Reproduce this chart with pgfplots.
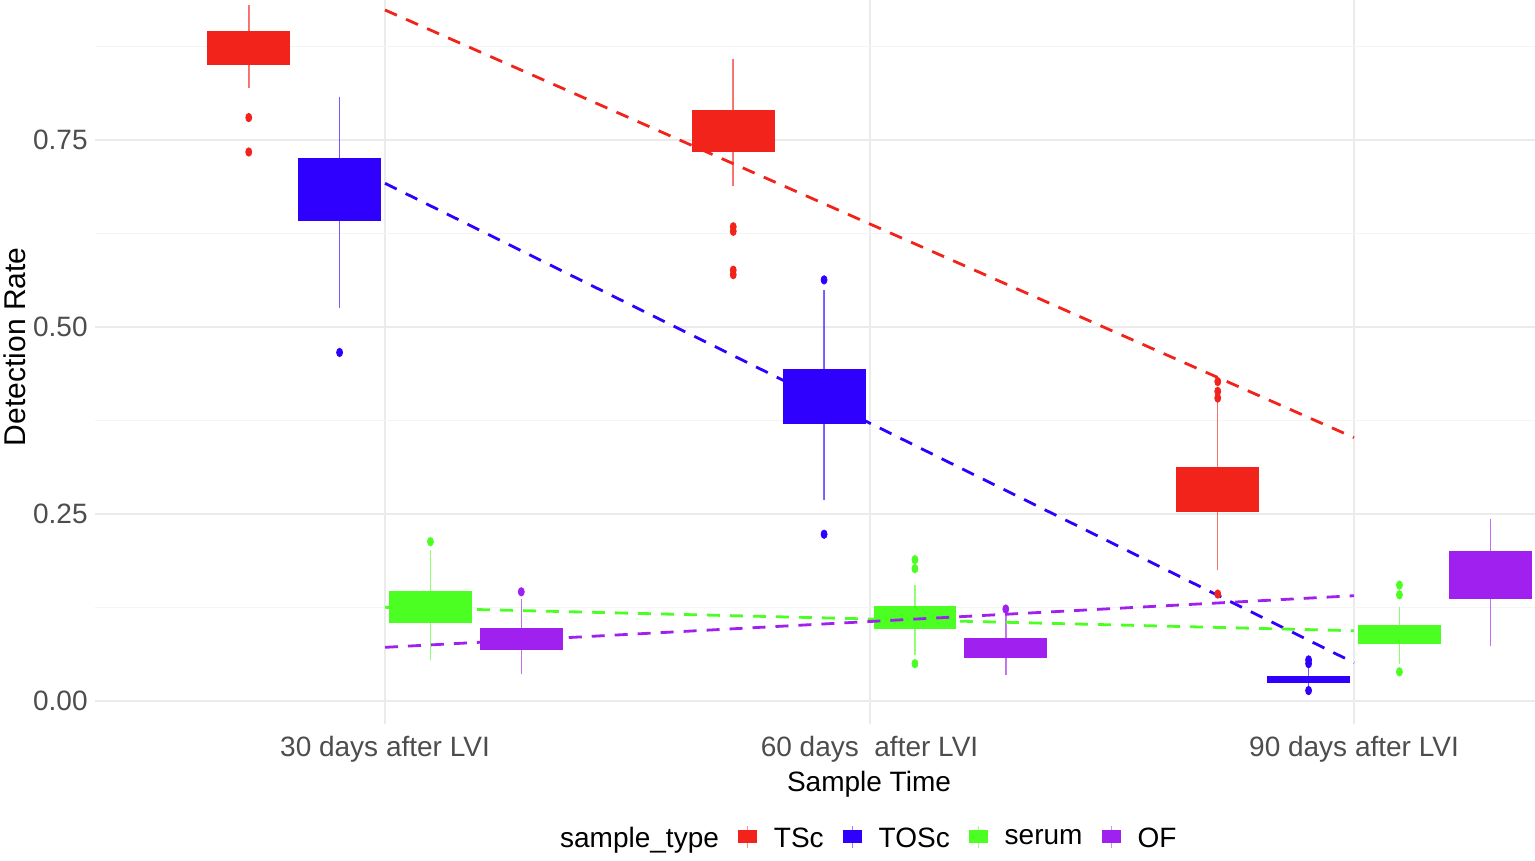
\documentclass[border=0pt]{standalone}
\usepackage{fontspec}
\setmainfont{Liberation Sans}
\usepackage{pgfplots}
\pgfplotsset{compat=1.18}
\usepgfplotslibrary{statistics}
\definecolor{tsc}{HTML}{F2231B}
\definecolor{tosc}{HTML}{3000FF}
\definecolor{serum}{HTML}{4CFF22}
\definecolor{ofc}{HTML}{A020F0}
\definecolor{gridc}{HTML}{EBEBEB}
\definecolor{gridm}{HTML}{F4F4F4}
\definecolor{tickc}{HTML}{4D4D4D}
\pgfplotsset{
  bxs/.style={forget plot, draw=#1, fill=#1, line width=0.4pt,
    boxplot/draw direction=y,
    mark=*, mark size=1.5pt, mark options={solid, fill=#1, draw=#1, yscale=1.4},
    boxplot/every whisker/.style={draw opacity=0.6, line width=0.75pt},
    boxplot/every median/.style={line width=0.4pt}},
  trend/.style={forget plot, draw=#1, line width=1.4pt, dash pattern=on 6.5pt off 5pt, mark=none},
  keyimg/.style={legend image code/.code={%
    \path[draw=none, fill=none] (0pt,0pt) rectangle (18pt,1pt);
    \draw[draw=#1, fill=none, draw opacity=0.5, line width=0.5pt] (4.75pt,-4.5pt) -- (4.75pt,6.5pt);
    \fill[fill=#1, draw=none] (0pt,-2.25pt) rectangle (9.5pt,4.25pt);}}
}
\begin{document}
\begin{tikzpicture}
\begin{axis}[
  scale only axis, width=720pt, height=362pt,
  xmin=0.4014, xmax=3.3736, ymin=-0.0307, ymax=0.9372,
  axis line style={draw=none}, tick style={draw=none},
  /pgf/number format/assume math mode=true,
  xtick={1,2,3},
  xticklabels={30 days after LVI, 60 days\ \ after LVI, 90 days after LVI},
  ytick={0,0.25,0.5,0.75}, minor ytick={0.125,0.375,0.625,0.875},
  yticklabels={0.00,0.25,0.50,0.75},
  xmajorgrids, ymajorgrids, yminorgrids,
  major grid style={draw=gridc, line width=1pt},
  minor grid style={draw=gridm, line width=0.6pt},
  tick label style={font=\fontsize{14}{16}\selectfont, text=tickc},
  yticklabel style={inner xsep=3.5pt},
  xticklabel style={inner ysep=6pt},
  xlabel={Sample Time}, ylabel={Detection Rate},
  xlabel style={at={(axis description cs:0.5375,0)}, anchor=north, inner sep=0pt, yshift=-23.5pt, font=\fontsize{14}{16}\selectfont},
  ylabel style={at={(axis description cs:-0.0556,0.521)}, anchor=center, inner sep=0pt, font=\fontsize{15}{17}\selectfont},
  legend columns=-1, legend cell align=left,
  legend style={at={(axis description cs:0.537,-0.1575)}, anchor=center, draw=none, fill=none,
    font=\fontsize{14}{16}\selectfont, column sep=0pt, nodes={inner sep=0pt},
    /tikz/every even column/.append style={column sep=9.5pt}},
]
% ---- 30 days
\addplot[bxs=tsc, boxplot prepared={draw position=0.71875, lower whisker=0.820, lower quartile=0.851, median=0.873, upper quartile=0.895, upper whisker=0.931, box extend=0.169, whisker extend=0}]
  table[row sep=\\, y index=0] {data\\ 0.780\\ 0.734\\};
\addplot[bxs=tosc, boxplot prepared={draw position=0.90625, lower whisker=0.525, lower quartile=0.642, median=0.684, upper quartile=0.726, upper whisker=0.808, box extend=0.169, whisker extend=0}]
  table[row sep=\\, y index=0] {data\\ 0.466\\};
\addplot[bxs=serum, boxplot prepared={draw position=1.09375, lower whisker=0.055, lower quartile=0.105, median=0.125, upper quartile=0.146, upper whisker=0.202, box extend=0.169, whisker extend=0}]
  table[row sep=\\, y index=0] {data\\ 0.213\\};
\addplot[bxs=ofc, boxplot prepared={draw position=1.28125, lower whisker=0.036, lower quartile=0.069, median=0.083, upper quartile=0.097, upper whisker=0.136, box extend=0.169, whisker extend=0}]
  table[row sep=\\, y index=0] {data\\ 0.146\\};
% ---- 60 days
\addplot[bxs=tsc, boxplot prepared={draw position=1.71875, lower whisker=0.688, lower quartile=0.735, median=0.762, upper quartile=0.789, upper whisker=0.858, box extend=0.169, whisker extend=0}]
  table[row sep=\\, y index=0] {data\\ 0.634\\ 0.628\\ 0.576\\ 0.570\\};
\addplot[bxs=tosc, boxplot prepared={draw position=1.90625, lower whisker=0.269, lower quartile=0.371, median=0.405, upper quartile=0.443, upper whisker=0.549, box extend=0.169, whisker extend=0}]
  table[row sep=\\, y index=0] {data\\ 0.563\\ 0.223\\};
\addplot[bxs=serum, boxplot prepared={draw position=2.09375, lower whisker=0.062, lower quartile=0.097, median=0.112, upper quartile=0.126, upper whisker=0.155, box extend=0.169, whisker extend=0}]
  table[row sep=\\, y index=0] {data\\ 0.189\\ 0.177\\ 0.050\\};
\addplot[bxs=ofc, boxplot prepared={draw position=2.28125, lower whisker=0.035, lower quartile=0.059, median=0.071, upper quartile=0.084, upper whisker=0.117, box extend=0.169, whisker extend=0}]
  table[row sep=\\, y index=0] {data\\ 0.123\\};
% ---- 90 days
\addplot[bxs=tsc, boxplot prepared={draw position=2.71875, lower whisker=0.175, lower quartile=0.254, median=0.283, upper quartile=0.313, upper whisker=0.402, box extend=0.169, whisker extend=0}]
  table[row sep=\\, y index=0] {data\\ 0.427\\ 0.414\\ 0.405\\ 0.143\\};
\addplot[bxs=tosc, boxplot prepared={draw position=2.90625, lower whisker=0.019, lower quartile=0.025, median=0.029, upper quartile=0.0334, upper whisker=0.044, box extend=0.169, whisker extend=0}]
  table[row sep=\\, y index=0] {data\\ 0.055\\ 0.050\\ 0.014\\};
\addplot[bxs=serum, boxplot prepared={draw position=3.09375, lower whisker=0.050, lower quartile=0.077, median=0.088, upper quartile=0.101, upper whisker=0.126, box extend=0.169, whisker extend=0}]
  table[row sep=\\, y index=0] {data\\ 0.155\\ 0.142\\ 0.039\\};
\addplot[bxs=ofc, boxplot prepared={draw position=3.28125, lower whisker=0.073, lower quartile=0.137, median=0.170, upper quartile=0.200, upper whisker=0.243, box extend=0.169, whisker extend=0}]
  coordinates {};
% ---- trend lines
\addplot[trend=tsc] coordinates {(1,0.9238) (2,0.6380) (3,0.3522)};
\addplot[trend=tosc] coordinates {(1,0.6921) (2,0.3717) (3,0.0512)};
\addplot[trend=serum] coordinates {(1,0.1253) (2,0.1097) (3,0.0940)};
\addplot[trend=ofc] coordinates {(1,0.0718) (2,0.1063) (3,0.1408)};
% ---- legend
\addlegendimage{empty legend}\addlegendentry{sample\_type}
\addlegendimage{keyimg=tsc}\addlegendentry{TSc}
\addlegendimage{keyimg=tosc}\addlegendentry{TOSc}
\addlegendimage{keyimg=serum}\addlegendentry{serum}
\addlegendimage{keyimg=ofc}\addlegendentry{OF}
\coordinate (SW) at (rel axis cs:0,0);
\coordinate (NE) at (rel axis cs:1,1);
\end{axis}
\pgfresetboundingbox
\path[use as bounding box] ([shift={(-47.5pt,-68.5pt)}]SW) rectangle (NE);
\end{tikzpicture}
\end{document}
